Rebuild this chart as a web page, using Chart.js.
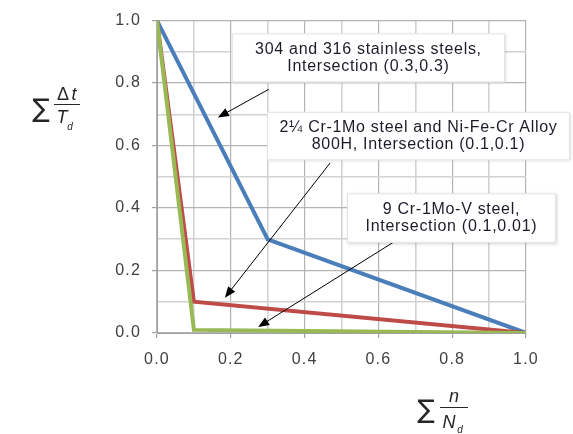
<!DOCTYPE html>
<html>
<head>
<meta charset="utf-8">
<script src="https://cdn.jsdelivr.net/npm/chart.js@4/dist/chart.umd.min.js"></script>
<style>
  html, body { margin: 0; padding: 0; background: #fff; }
  #wrap { width: 573px; height: 434px; }
</style>
</head>
<body>
<div id="wrap"><canvas id="chart"></canvas></div>
<script>
// data: cycle fraction (x) vs time fraction (y)
const stainlessX = [0, 0.3, 1.0];
const stainlessY = [1.0, 0.3, 0];
const crMoX = [0, 0.1, 1.0];
const crMoY = [1.0, 0.1, 0];
const crMoVX = [0, 0.1, 1.0];
const crMoVY = [1.0, 0.01, 0];
const tickValues = [0, 0.2, 0.4, 0.6, 0.8, 1.0];

const labels1 = ["304 and 316 stainless steels,", "Intersection (0.3,0.3)"];
const labels2 = ["2\u00BC Cr-1Mo steel and Ni-Fe-Cr Alloy", "800H, Intersection (0.1,0.1)"];
const labels3 = ["9 Cr-1Mo-V steel,", "Intersection (0.1,0.01)"];

function toPoints(xs, ys) {
  return xs.map((x, i) => ({ x: x, y: ys[i] }));
}

// callout boxes and arrows, in data units
const callouts = [
  { text: labels1, box: [0.203, 0.959, 0.943, 0.802], arrow: [0.303, 0.78, 0.165, 0.69] },
  { text: labels2, box: [0.298, 0.708, 1.119, 0.553], arrow: [0.469, 0.544, 0.184, 0.113] },
  { text: labels3, box: [0.515, 0.447, 1.081, 0.289], arrow: [0.64, 0.29, 0.274, 0.019] }
];

const isMajor = v => Math.round(v * 10) % 2 === 0;

const spacing = {
  id: "spacing",
  beforeDraw(chart) { chart.ctx.letterSpacing = "1.2px"; },
  afterDraw(chart) { chart.ctx.letterSpacing = "0px"; }
};

const extras = {
  id: "extras",
  afterDatasetsDraw(chart) {
    const c = chart.ctx;
    const xs = chart.scales.x, ys = chart.scales.y;
    c.save();
    c.letterSpacing = "0px";
    callouts.forEach(co => {
      // arrow
      const tx = xs.getPixelForValue(co.arrow[0]), ty = ys.getPixelForValue(co.arrow[1]);
      const hx = xs.getPixelForValue(co.arrow[2]), hy = ys.getPixelForValue(co.arrow[3]);
      const ang = Math.atan2(hy - ty, hx - tx);
      c.strokeStyle = "#000";
      c.lineWidth = 1;
      c.beginPath();
      c.moveTo(tx, ty);
      c.lineTo(hx - 8 * Math.cos(ang), hy - 8 * Math.sin(ang));
      c.stroke();
      c.fillStyle = "#000";
      c.beginPath();
      c.moveTo(hx, hy);
      c.lineTo(hx - 11 * Math.cos(ang) + 4.5 * Math.sin(ang), hy - 11 * Math.sin(ang) - 4.5 * Math.cos(ang));
      c.lineTo(hx - 11 * Math.cos(ang) - 4.5 * Math.sin(ang), hy - 11 * Math.sin(ang) + 4.5 * Math.cos(ang));
      c.closePath();
      c.fill();
    });
    callouts.forEach(co => {
      const x1 = xs.getPixelForValue(co.box[0]), y1 = ys.getPixelForValue(co.box[1]);
      const x2 = xs.getPixelForValue(co.box[2]), y2 = ys.getPixelForValue(co.box[3]);
      c.save();
      c.shadowColor = "rgba(0,0,0,0.18)";
      c.shadowBlur = 3;
      c.shadowOffsetX = 1;
      c.shadowOffsetY = 1;
      c.fillStyle = "#fff";
      c.fillRect(x1, y1, x2 - x1, y2 - y1);
      c.restore();
      c.strokeStyle = "#e4e4e4";
      c.lineWidth = 1;
      c.strokeRect(x1 + 0.5, y1 + 0.5, x2 - x1 - 1, y2 - y1 - 1);
      c.fillStyle = "#1c1c28";
      c.font = "16px 'Liberation Sans', Arial, sans-serif";
      c.letterSpacing = "0.7px";
      c.textAlign = "center";
      c.textBaseline = "middle";
      const cx = (x1 + x2) / 2, cy = (y1 + y2) / 2;
      c.fillText(co.text[0], cx, cy - 8.5);
      c.fillText(co.text[1], cx, cy + 9);
      c.letterSpacing = "0px";
    });

    // axis titles written as small formulas
    c.fillStyle = "#262626";
    c.strokeStyle = "#262626";
    c.textAlign = "center";
    c.textBaseline = "alphabetic";
    // y title: sum of dt / Td
    c.font = "26px 'DejaVu Sans', sans-serif";
    c.fillText("\u2211", 41, 117);
    c.font = "18px 'Liberation Sans', Arial, sans-serif";
    c.fillText("\u0394", 63, 100);
    c.font = "italic 18px 'Liberation Sans', Arial, sans-serif";
    c.fillText("t", 74, 100);
    c.beginPath(); c.moveTo(54, 104.5); c.lineTo(80, 104.5); c.lineWidth = 1; c.stroke();
    c.fillText("T", 62, 123);
    c.font = "italic 10px 'Liberation Sans', Arial, sans-serif";
    c.fillText("d", 70, 130);
    // x title: sum of n / Nd
    c.font = "26px 'DejaVu Sans', sans-serif";
    c.fillText("\u2211", 426, 418);
    c.font = "italic 18px 'Liberation Sans', Arial, sans-serif";
    c.fillText("n", 454, 402);
    c.beginPath(); c.moveTo(440, 407.5); c.lineTo(468, 407.5); c.stroke();
    c.fillText("N", 449, 428);
    c.font = "italic 10px 'Liberation Sans', Arial, sans-serif";
    c.fillText("d", 460, 433);
    c.restore();
  }
};

const gridColor = ctx => (ctx.tick && isMajor(ctx.tick.value)) ? "#b4b4b4" : "#d2d2d2";
const gridWidth = ctx => (ctx.tick && isMajor(ctx.tick.value)) ? 1.2 : 1.6;
const tickColor = ctx => (ctx.tick && isMajor(ctx.tick.value)) ? "#a0a0a0" : "rgba(0,0,0,0)";
const tickLabel = v => (isMajor(v) && tickValues.some(t => Math.abs(t - v) < 1e-6)) ? Number(v).toFixed(1) : "";

new Chart(document.getElementById("chart"), {
  type: "scatter",
  data: {
    datasets: [
      { label: "304/316", data: toPoints(stainlessX, stainlessY), borderColor: "#4a7ebb", order: 3 },
      { label: "2.25Cr-1Mo", data: toPoints(crMoX, crMoY), borderColor: "#be4b48", order: 2 },
      { label: "9Cr-1Mo-V", data: toPoints(crMoVX, crMoVY), borderColor: "#98b954", order: 1 }
    ].map(d => Object.assign(d, { showLine: true, pointRadius: 0, borderWidth: 4, fill: false, tension: 0 }))
  },
  options: {
    responsive: true,
    maintainAspectRatio: false,
    animation: false,
    devicePixelRatio: 1,
    layout: { padding: { top: 15, right: 47, left: 0, bottom: 0 } },
    plugins: { legend: { display: false }, tooltip: { enabled: false } },
    scales: {
      x: {
        type: "linear", min: 0, max: 1,
        afterFit: s => { s.height = 101; },
        ticks: { stepSize: 0.1, autoSkip: false, maxRotation: 0, padding: 12, color: "#404040",
          font: { family: "'Liberation Sans', Arial, sans-serif", size: 16 }, callback: tickLabel },
        grid: { color: gridColor, tickColor: tickColor, tickLength: 5, lineWidth: gridWidth },
        border: { color: "#a0a0a0", width: 1 }
      },
      y: {
        type: "linear", min: 0, max: 1,
        afterFit: s => { s.width = 157; },
        ticks: { stepSize: 0.1, autoSkip: false, padding: 11, color: "#404040",
          font: { family: "'Liberation Sans', Arial, sans-serif", size: 16 }, callback: tickLabel },
        grid: { color: gridColor, tickColor: tickColor, tickLength: 5, lineWidth: gridWidth },
        border: { color: "#a0a0a0", width: 1 }
      }
    }
  },
  plugins: [spacing, extras]
});
</script>
</body>
</html>
